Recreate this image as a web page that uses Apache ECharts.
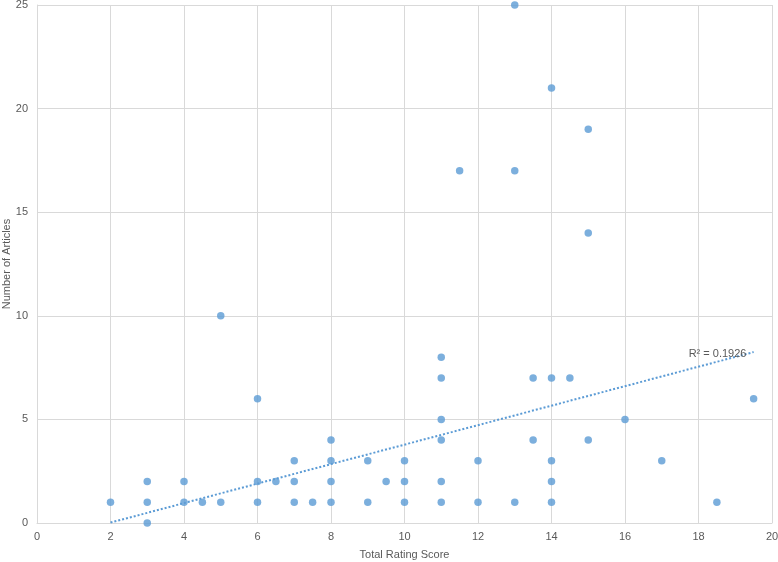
<!DOCTYPE html>
<html>
<head>
<meta charset="utf-8">
<script src="https://cdn.jsdelivr.net/npm/echarts@6/dist/echarts.min.js"></script>
<style>
html,body{margin:0;padding:0;background:#fff;}
#c{width:778px;height:562px;}
</style>
</head>
<body>
<div id="c"></div>
<script>
var scoreX = [2,3,3,3,4,4,4.5,5,5,6,6,6,6.5,7,7,7,7.5,8,8,8,8,9,9,9.5,10,10,10,11,11,11,11,11,11,11.5,12,12,13,13,13,13.5,13.5,14,14,14,14,14,14.5,15,15,15,16,17,18.5,19.5];
var articlesY = [1,2,1,0,2,1,1,10,1,6,2,1,2,3,2,1,1,4,3,2,1,3,1,2,3,2,1,8,7,5,4,2,1,17,3,1,25,17,1,7,4,21,7,3,2,1,7,19,14,4,5,3,1,6];
var trendX = [2, 19.5];
var trendY = [0.02, 8.25];
var r2Label = 'R² = 0.1926';
var xTicks = {min:0, max:20, interval:2};
var yTicks = {min:0, max:25, interval:5};

var pts = scoreX.map(function(x,i){return [x, articlesY[i]];});
var trend = trendX.map(function(x,i){return [x, trendY[i]];});

var font = 'Liberation Sans, Arial, sans-serif';
var chart = echarts.init(document.getElementById('c'));
chart.setOption({
  animation:false,
  backgroundColor:'#ffffff',
  grid:{left:37, right:6, top:5, bottom:39, containLabel:false, outerBoundsMode:'none'},
  xAxis:{
    type:'value', min:xTicks.min, max:xTicks.max, interval:xTicks.interval,
    name:'Total Rating Score', nameLocation:'middle', nameGap:26, nameMoveOverlap:false,
    nameTextStyle:{color:'#595959', fontSize:11, fontFamily:font},
    axisLine:{show:true, lineStyle:{color:'#d9d9d9'}},
    axisTick:{show:false},
    axisLabel:{color:'#595959', fontSize:11, fontFamily:font, margin:8},
    splitLine:{show:true, lineStyle:{color:'#d9d9d9', width:1}}
  },
  yAxis:{
    type:'value', min:yTicks.min, max:yTicks.max, interval:yTicks.interval,
    name:'Number of Articles', nameLocation:'middle', nameGap:25, nameMoveOverlap:false,
    nameTextStyle:{color:'#595959', fontSize:11, fontFamily:font},
    axisLine:{show:true, lineStyle:{color:'#d9d9d9'}},
    axisTick:{show:false},
    axisLabel:{color:'#595959', fontSize:11, fontFamily:font, margin:9},
    splitLine:{show:true, lineStyle:{color:'#d9d9d9', width:1}}
  },
  series:[
    {
      type:'line', data:trend, symbol:'none', silent:true, z:1,
      lineStyle:{color:'#5B9BD5', width:2, type:[2,2]},
      endLabel:{show:true, formatter:r2Label, position:'left', color:'#595959', fontSize:11, fontFamily:font, offset:[-73,2]}
    },
    {
      type:'scatter', data:pts, symbol:'circle', symbolSize:7.5, z:3,
      itemStyle:{color:'#5B9BD5'}
    }
  ]
});
</script>
</body>
</html>
